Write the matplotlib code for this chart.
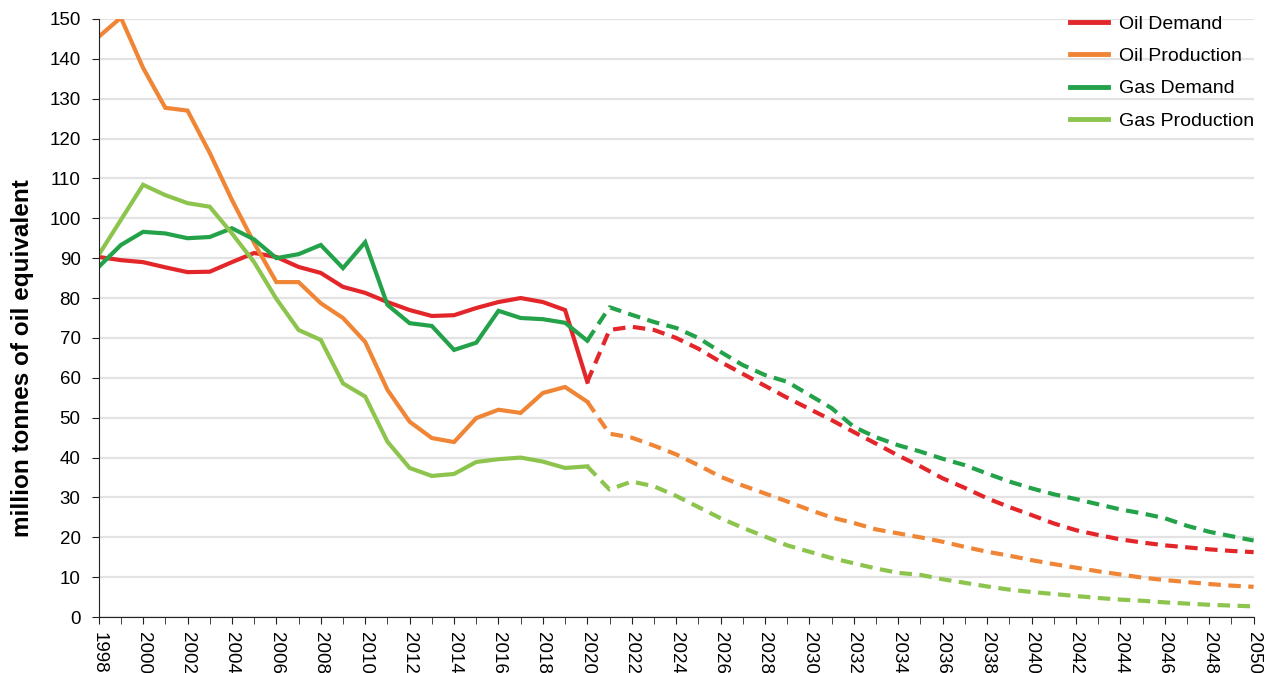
import matplotlib
matplotlib.use("Agg")
import matplotlib.pyplot as plt
import numpy as np

plt.rcParams['font.family'] = ['Liberation Sans', 'DejaVu Sans']

years = list(range(1998, 2051))

oil_demand = [90.3, 89.5, 89.0, 87.7, 86.5, 86.6, 89.0, 91.3, 90.3, 87.8,
              86.3, 82.8, 81.3, 79.0, 77.0, 75.5, 75.7, 77.5, 79.0, 80.0,
              79.0, 77.0, 59.0, 72.0, 72.8, 72.0, 70.0, 67.3, 64.0, 61.0,
              58.0, 55.0, 52.2, 49.4, 46.4, 43.5, 40.5, 37.8, 34.8, 32.4,
              29.8, 27.6, 25.6, 23.5, 21.8, 20.6, 19.5, 18.7, 18.0, 17.5,
              17.0, 16.6, 16.3]
oil_production = [145.5, 150.3, 137.7, 127.7, 127.0, 116.4, 104.6, 93.8, 84.0, 84.0,
                  78.7, 75.0, 69.0, 57.0, 49.0, 44.9, 43.9, 49.9, 52.0, 51.2,
                  56.2, 57.7, 54.0, 46.0, 45.0, 43.0, 40.8, 38.1, 35.2, 33.0,
                  31.0, 29.0, 26.9, 25.0, 23.6, 22.0, 21.0, 20.0, 18.9, 17.6,
                  16.4, 15.4, 14.3, 13.3, 12.4, 11.5, 10.7, 9.9, 9.3, 8.8,
                  8.3, 7.9, 7.6]
gas_demand = [87.8, 93.3, 96.6, 96.2, 95.0, 95.3, 97.5, 94.7, 90.0, 91.0,
              93.3, 87.5, 94.0, 78.3, 73.7, 73.0, 67.0, 68.8, 76.8, 75.0,
              74.7, 73.8, 69.3, 77.7, 75.8, 74.0, 72.5, 70.0, 66.5, 63.2,
              60.7, 59.0, 55.7, 52.4, 47.7, 45.1, 43.1, 41.5, 39.7, 38.1,
              36.0, 34.0, 32.3, 30.8, 29.6, 28.3, 27.0, 26.0, 24.8, 22.9,
              21.4, 20.3, 19.2]
gas_production = [90.8, 99.6, 108.4, 105.8, 103.8, 102.9, 96.2, 89.0, 79.8, 72.0,
                  69.5, 58.6, 55.3, 44.0, 37.4, 35.4, 35.9, 38.9, 39.6, 40.0,
                  39.0, 37.4, 37.8, 32.0, 34.0, 32.8, 30.4, 27.6, 24.8, 22.4,
                  20.2, 18.0, 16.4, 14.8, 13.5, 12.2, 11.1, 10.6, 9.5, 8.6,
                  7.7, 6.9, 6.3, 5.8, 5.3, 4.8, 4.4, 4.1, 3.7, 3.4,
                  3.1, 2.9, 2.7]

series = [
    ("Oil Demand", oil_demand, "#E3262A"),
    ("Oil Production", oil_production, "#F08536"),
    ("Gas Demand", gas_demand, "#23A24A"),
    ("Gas Production", gas_production, "#8DC44E"),
]

split_year = 2020

fig = plt.figure(figsize=(12.65, 6.73), dpi=100)
ax = fig.add_axes([0.078, 0.083, 0.913, 0.889])

yrs = np.array(years)
cut = years.index(split_year)
for name, values, color in series:
    vals = np.array(values)
    # history solid, outlook dashed
    ax.plot(yrs[:cut + 1], vals[:cut + 1], color=color, lw=3,
            solid_joinstyle='miter', label=name)
    ax.plot(yrs[cut:], vals[cut:], color=color, lw=3,
            linestyle=(0, (3.0, 1.8)), dash_capstyle='butt')

ax.set_xlim(1998, 2050)
ax.set_ylim(0, 150)
ax.set_yticks(range(0, 151, 10))
ax.set_xticks(range(1998, 2051, 2))
ax.set_xticks(range(1998, 2051, 1), minor=True)
ax.tick_params(axis='x', which='major', labelrotation=-90, labelsize=13.5,
               length=5, direction='out', color='#222222', pad=6)
ax.tick_params(axis='x', which='minor', length=5, direction='out', color='#222222')
ax.tick_params(axis='y', labelsize=13.5, length=5, direction='out',
               color='#222222', pad=8)

ax.grid(axis='y', color='#E3E3E3', lw=1.6)
ax.set_axisbelow(True)
for side in ('top', 'right'):
    ax.spines[side].set_visible(False)
ax.spines['left'].set_color('#222222')
ax.spines['bottom'].set_color('#222222')

ax.set_ylabel("million tonnes of oil equivalent", fontsize=17.5,
              fontweight='bold')
ax.yaxis.set_label_coords(-0.056, 0.433)

leg = ax.legend(loc='upper right', frameon=False, fontsize=14,
                handlelength=1.95, handletextpad=0.6, labelspacing=0.75,
                bbox_to_anchor=(1.016, 1.035))
for line in leg.get_lines():
    line.set_linewidth(3.5)

fig.savefig("out.png", dpi=100)
